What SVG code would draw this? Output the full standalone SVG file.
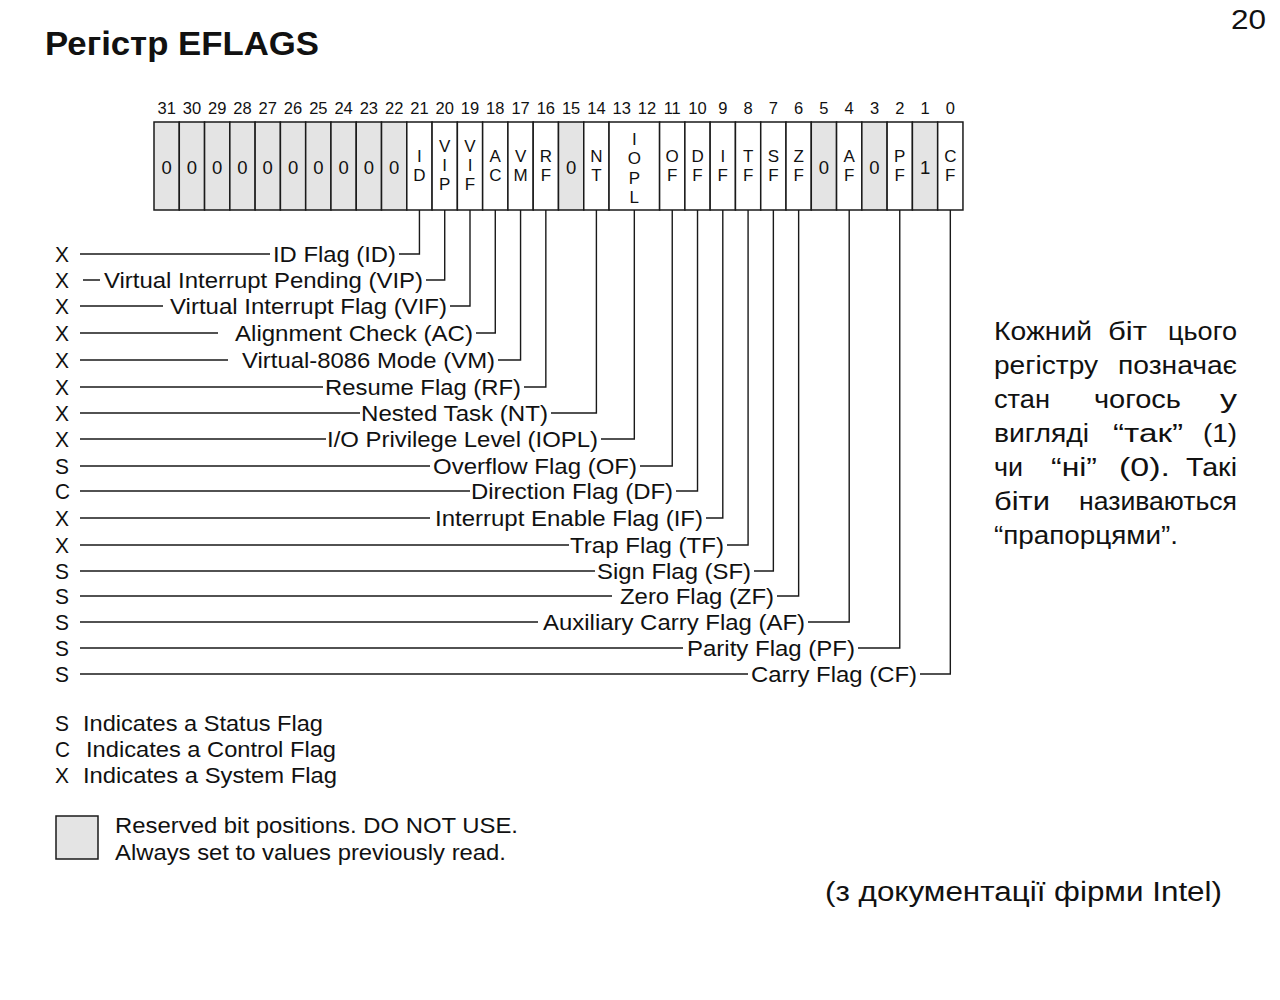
<svg xmlns="http://www.w3.org/2000/svg" width="1280" height="1000" viewBox="0 0 1280 1000">
<style>
  text{font-family:"Liberation Sans",Arial,Helvetica,sans-serif;fill:#111}
  .title{font-size:33px;font-weight:bold}
  .pg{font-size:28px}
  .bitno{font-size:16.5px;text-anchor:middle}
  .cell{fill:#fff;stroke:#1a1a1a;stroke-width:1.5}
  .rsv{fill:#e4e4e4}
  .cl{font-size:17px;text-anchor:middle}
  .zero{font-size:18.5px;text-anchor:middle}
  .lbl{font-size:22px}
  .wire{fill:none;stroke:#1a1a1a;stroke-width:1.4}
  .para{font-size:25px}
  .cite{font-size:27px}
</style>

<text class="title" x="45" y="55" textLength="274" lengthAdjust="spacingAndGlyphs">Регістр EFLAGS</text>
<text class="pg" x="1231" y="29" textLength="35" lengthAdjust="spacingAndGlyphs">20</text>

<!-- bit numbers above the register -->
<g id="bit-numbers">
  <text class="bitno" x="166.64" y="114">31</text>
  <text class="bitno" x="191.92" y="114">30</text>
  <text class="bitno" x="217.2" y="114">29</text>
  <text class="bitno" x="242.48" y="114">28</text>
  <text class="bitno" x="267.76" y="114">27</text>
  <text class="bitno" x="293.04" y="114">26</text>
  <text class="bitno" x="318.32" y="114">25</text>
  <text class="bitno" x="343.6" y="114">24</text>
  <text class="bitno" x="368.88" y="114">23</text>
  <text class="bitno" x="394.16" y="114">22</text>
  <text class="bitno" x="419.44" y="114">21</text>
  <text class="bitno" x="444.72" y="114">20</text>
  <text class="bitno" x="470" y="114">19</text>
  <text class="bitno" x="495.28" y="114">18</text>
  <text class="bitno" x="520.56" y="114">17</text>
  <text class="bitno" x="545.84" y="114">16</text>
  <text class="bitno" x="571.12" y="114">15</text>
  <text class="bitno" x="596.4" y="114">14</text>
  <text class="bitno" x="621.68" y="114">13</text>
  <text class="bitno" x="646.96" y="114">12</text>
  <text class="bitno" x="672.24" y="114">11</text>
  <text class="bitno" x="697.52" y="114">10</text>
  <text class="bitno" x="722.8" y="114">9</text>
  <text class="bitno" x="748.08" y="114">8</text>
  <text class="bitno" x="773.36" y="114">7</text>
  <text class="bitno" x="798.64" y="114">6</text>
  <text class="bitno" x="823.92" y="114">5</text>
  <text class="bitno" x="849.2" y="114">4</text>
  <text class="bitno" x="874.48" y="114">3</text>
  <text class="bitno" x="899.76" y="114">2</text>
  <text class="bitno" x="925.04" y="114">1</text>
  <text class="bitno" x="950.32" y="114">0</text>
</g>

<!-- register cells, bit 31 on the left -->
<g id="register">
  <g id="reserved-high">
    <rect class="cell rsv" x="154" y="122" width="25.28" height="88"/>
    <rect class="cell rsv" x="179.28" y="122" width="25.28" height="88"/>
    <rect class="cell rsv" x="204.56" y="122" width="25.28" height="88"/>
    <rect class="cell rsv" x="229.84" y="122" width="25.28" height="88"/>
    <rect class="cell rsv" x="255.12" y="122" width="25.28" height="88"/>
    <rect class="cell rsv" x="280.4" y="122" width="25.28" height="88"/>
    <rect class="cell rsv" x="305.68" y="122" width="25.28" height="88"/>
    <rect class="cell rsv" x="330.96" y="122" width="25.28" height="88"/>
    <rect class="cell rsv" x="356.24" y="122" width="25.28" height="88"/>
    <rect class="cell rsv" x="381.52" y="122" width="25.28" height="88"/>
    <text class="zero" x="166.64" y="174">0</text>
    <text class="zero" x="191.92" y="174">0</text>
    <text class="zero" x="217.2" y="174">0</text>
    <text class="zero" x="242.48" y="174">0</text>
    <text class="zero" x="267.76" y="174">0</text>
    <text class="zero" x="293.04" y="174">0</text>
    <text class="zero" x="318.32" y="174">0</text>
    <text class="zero" x="343.6" y="174">0</text>
    <text class="zero" x="368.88" y="174">0</text>
    <text class="zero" x="394.16" y="174">0</text>
  </g>
  <g id="bit-ID"><rect class="cell" x="406.8" y="122" width="25.28" height="88"/>
    <text class="cl"><tspan x="419.44" y="162">I</tspan><tspan x="419.44" y="181">D</tspan></text></g>
  <g id="bit-VIP"><rect class="cell" x="432.08" y="122" width="25.28" height="88"/>
    <text class="cl"><tspan x="444.72" y="152">V</tspan><tspan x="444.72" y="171">I</tspan><tspan x="444.72" y="190">P</tspan></text></g>
  <g id="bit-VIF"><rect class="cell" x="457.36" y="122" width="25.28" height="88"/>
    <text class="cl"><tspan x="470" y="152">V</tspan><tspan x="470" y="171">I</tspan><tspan x="470" y="190">F</tspan></text></g>
  <g id="bit-AC"><rect class="cell" x="482.64" y="122" width="25.28" height="88"/>
    <text class="cl"><tspan x="495.28" y="162">A</tspan><tspan x="495.28" y="181">C</tspan></text></g>
  <g id="bit-VM"><rect class="cell" x="507.92" y="122" width="25.28" height="88"/>
    <text class="cl"><tspan x="520.56" y="162">V</tspan><tspan x="520.56" y="181">M</tspan></text></g>
  <g id="bit-RF"><rect class="cell" x="533.2" y="122" width="25.28" height="88"/>
    <text class="cl"><tspan x="545.84" y="162">R</tspan><tspan x="545.84" y="181">F</tspan></text></g>
  <g id="bit-15"><rect class="cell rsv" x="558.48" y="122" width="25.28" height="88"/>
    <text class="zero" x="571.12" y="174">0</text></g>
  <g id="bit-NT"><rect class="cell" x="583.76" y="122" width="25.28" height="88"/>
    <text class="cl"><tspan x="596.4" y="162">N</tspan><tspan x="596.4" y="181">T</tspan></text></g>
  <g id="bit-IOPL"><rect class="cell" x="609.04" y="122" width="50.56" height="88"/>
    <text class="cl"><tspan x="634.32" y="145">I</tspan><tspan x="634.32" y="164">O</tspan><tspan x="634.32" y="183.5">P</tspan><tspan x="634.32" y="202.5">L</tspan></text></g>
  <g id="bit-OF"><rect class="cell" x="659.6" y="122" width="25.28" height="88"/>
    <text class="cl"><tspan x="672.24" y="162">O</tspan><tspan x="672.24" y="181">F</tspan></text></g>
  <g id="bit-DF"><rect class="cell" x="684.88" y="122" width="25.28" height="88"/>
    <text class="cl"><tspan x="697.52" y="162">D</tspan><tspan x="697.52" y="181">F</tspan></text></g>
  <g id="bit-IF"><rect class="cell" x="710.16" y="122" width="25.28" height="88"/>
    <text class="cl"><tspan x="722.8" y="162">I</tspan><tspan x="722.8" y="181">F</tspan></text></g>
  <g id="bit-TF"><rect class="cell" x="735.44" y="122" width="25.28" height="88"/>
    <text class="cl"><tspan x="748.08" y="162">T</tspan><tspan x="748.08" y="181">F</tspan></text></g>
  <g id="bit-SF"><rect class="cell" x="760.72" y="122" width="25.28" height="88"/>
    <text class="cl"><tspan x="773.36" y="162">S</tspan><tspan x="773.36" y="181">F</tspan></text></g>
  <g id="bit-ZF"><rect class="cell" x="786" y="122" width="25.28" height="88"/>
    <text class="cl"><tspan x="798.64" y="162">Z</tspan><tspan x="798.64" y="181">F</tspan></text></g>
  <g id="bit-5"><rect class="cell rsv" x="811.28" y="122" width="25.28" height="88"/>
    <text class="zero" x="823.92" y="174">0</text></g>
  <g id="bit-AF"><rect class="cell" x="836.56" y="122" width="25.28" height="88"/>
    <text class="cl"><tspan x="849.2" y="162">A</tspan><tspan x="849.2" y="181">F</tspan></text></g>
  <g id="bit-3"><rect class="cell rsv" x="861.84" y="122" width="25.28" height="88"/>
    <text class="zero" x="874.48" y="174">0</text></g>
  <g id="bit-PF"><rect class="cell" x="887.12" y="122" width="25.28" height="88"/>
    <text class="cl"><tspan x="899.76" y="162">P</tspan><tspan x="899.76" y="181">F</tspan></text></g>
  <g id="bit-1"><rect class="cell rsv" x="912.4" y="122" width="25.28" height="88"/>
    <text class="zero" x="925.04" y="174">1</text></g>
  <g id="bit-CF"><rect class="cell" x="937.68" y="122" width="25.28" height="88"/>
    <text class="cl"><tspan x="950.32" y="162">C</tspan><tspan x="950.32" y="181">F</tspan></text></g>
</g>

<!-- leader lines: left rule, then label, then elbow up to the bit -->
<g id="connectors" class="wire">
  <path d="M80 254H270 M399 254H419.44V210"/>
  <path d="M83 280H100 M426 280H444.72V210"/>
  <path d="M80 306H163 M450 306H470V210"/>
  <path d="M80 333H218 M476 333H495.28V210"/>
  <path d="M80 360H228 M498 360H520.56V210"/>
  <path d="M80 387H323 M524 387H545.84V210"/>
  <path d="M80 413H360 M551 413H596.4V210"/>
  <path d="M80 439H326 M601 439H634.32V210"/>
  <path d="M80 466H430 M640 466H672.24V210"/>
  <path d="M80 491H470 M676 491H697.52V210"/>
  <path d="M80 518H430 M706 518H722.8V210"/>
  <path d="M80 545H569 M727 545H748.08V210"/>
  <path d="M80 571H595 M754 571H773.36V210"/>
  <path d="M80 596H612 M777 596H798.64V210"/>
  <path d="M80 622H538 M808 622H849.2V210"/>
  <path d="M80 648H683 M858 648H899.76V210"/>
  <path d="M80 674H748 M920 674H950.32V210"/>
</g>

<!-- flag class letters -->
<g id="flag-kinds" class="lbl">
  <text x="55" y="262" textLength="14" lengthAdjust="spacingAndGlyphs">X</text>
  <text x="55" y="288" textLength="14" lengthAdjust="spacingAndGlyphs">X</text>
  <text x="55" y="314" textLength="14" lengthAdjust="spacingAndGlyphs">X</text>
  <text x="55" y="341" textLength="14" lengthAdjust="spacingAndGlyphs">X</text>
  <text x="55" y="368" textLength="14" lengthAdjust="spacingAndGlyphs">X</text>
  <text x="55" y="395" textLength="14" lengthAdjust="spacingAndGlyphs">X</text>
  <text x="55" y="421" textLength="14" lengthAdjust="spacingAndGlyphs">X</text>
  <text x="55" y="447" textLength="14" lengthAdjust="spacingAndGlyphs">X</text>
  <text x="55" y="474" textLength="14" lengthAdjust="spacingAndGlyphs">S</text>
  <text x="55" y="499" textLength="15" lengthAdjust="spacingAndGlyphs">C</text>
  <text x="55" y="526" textLength="14" lengthAdjust="spacingAndGlyphs">X</text>
  <text x="55" y="553" textLength="14" lengthAdjust="spacingAndGlyphs">X</text>
  <text x="55" y="579" textLength="14" lengthAdjust="spacingAndGlyphs">S</text>
  <text x="55" y="604" textLength="14" lengthAdjust="spacingAndGlyphs">S</text>
  <text x="55" y="630" textLength="14" lengthAdjust="spacingAndGlyphs">S</text>
  <text x="55" y="656" textLength="14" lengthAdjust="spacingAndGlyphs">S</text>
  <text x="55" y="682" textLength="14" lengthAdjust="spacingAndGlyphs">S</text>
</g>

<!-- flag names -->
<g id="flag-names" class="lbl">
  <text x="273" y="262" textLength="123" lengthAdjust="spacingAndGlyphs">ID Flag (ID)</text>
  <text x="104" y="288" textLength="319" lengthAdjust="spacingAndGlyphs">Virtual Interrupt Pending (VIP)</text>
  <text x="170" y="314" textLength="277" lengthAdjust="spacingAndGlyphs">Virtual Interrupt Flag (VIF)</text>
  <text x="235" y="341" textLength="238" lengthAdjust="spacingAndGlyphs">Alignment Check (AC)</text>
  <text x="242" y="368" textLength="253" lengthAdjust="spacingAndGlyphs">Virtual-8086 Mode (VM)</text>
  <text x="325" y="395" textLength="196" lengthAdjust="spacingAndGlyphs">Resume Flag (RF)</text>
  <text x="361" y="421" textLength="187" lengthAdjust="spacingAndGlyphs">Nested Task (NT)</text>
  <text x="327" y="447" textLength="271" lengthAdjust="spacingAndGlyphs">I/O Privilege Level (IOPL)</text>
  <text x="433" y="474" textLength="204" lengthAdjust="spacingAndGlyphs">Overflow Flag (OF)</text>
  <text x="471" y="499" textLength="202" lengthAdjust="spacingAndGlyphs">Direction Flag (DF)</text>
  <text x="435" y="526" textLength="268" lengthAdjust="spacingAndGlyphs">Interrupt Enable Flag (IF)</text>
  <text x="570" y="553" textLength="154" lengthAdjust="spacingAndGlyphs">Trap Flag (TF)</text>
  <text x="597" y="579" textLength="154" lengthAdjust="spacingAndGlyphs">Sign Flag (SF)</text>
  <text x="620" y="604" textLength="154" lengthAdjust="spacingAndGlyphs">Zero Flag (ZF)</text>
  <text x="543" y="630" textLength="262" lengthAdjust="spacingAndGlyphs">Auxiliary Carry Flag (AF)</text>
  <text x="687" y="656" textLength="168" lengthAdjust="spacingAndGlyphs">Parity Flag (PF)</text>
  <text x="751" y="682" textLength="166" lengthAdjust="spacingAndGlyphs">Carry Flag (CF)</text>
</g>

<!-- legend -->
<g id="legend" class="lbl">
  <text x="55" y="731" textLength="14" lengthAdjust="spacingAndGlyphs">S</text>
  <text x="83" y="731" textLength="240" lengthAdjust="spacingAndGlyphs">Indicates a Status Flag</text>
  <text x="55" y="757" textLength="15" lengthAdjust="spacingAndGlyphs">C</text>
  <text x="86" y="757" textLength="250" lengthAdjust="spacingAndGlyphs">Indicates a Control Flag</text>
  <text x="55" y="783" textLength="14" lengthAdjust="spacingAndGlyphs">X</text>
  <text x="83" y="783" textLength="254" lengthAdjust="spacingAndGlyphs">Indicates a System Flag</text>
  <rect class="cell rsv" x="56" y="816" width="42" height="43"/>
  <text x="115" y="833" textLength="403" lengthAdjust="spacingAndGlyphs">Reserved bit positions. DO NOT USE.</text>
  <text x="115" y="860" textLength="391" lengthAdjust="spacingAndGlyphs">Always set to values previously read.</text>
</g>

<!-- justified note on the right -->
<g id="note" class="para">
  <text x="994" y="340" textLength="98" lengthAdjust="spacingAndGlyphs">Кожний</text>
  <text x="1108" y="340" textLength="39" lengthAdjust="spacingAndGlyphs">біт</text>
  <text x="1168" y="340" textLength="69" lengthAdjust="spacingAndGlyphs">цього</text>
  <text x="994" y="374" textLength="104" lengthAdjust="spacingAndGlyphs">регістру</text>
  <text x="1118" y="374" textLength="119" lengthAdjust="spacingAndGlyphs">позначає</text>
  <text x="994" y="408" textLength="56" lengthAdjust="spacingAndGlyphs">стан</text>
  <text x="1094" y="408" textLength="87" lengthAdjust="spacingAndGlyphs">чогось</text>
  <text x="1220" y="408" textLength="17" lengthAdjust="spacingAndGlyphs">у</text>
  <text x="994" y="442" textLength="95" lengthAdjust="spacingAndGlyphs">вигляді</text>
  <text x="1113" y="442" textLength="70" lengthAdjust="spacingAndGlyphs">“так”</text>
  <text x="1203" y="442" textLength="34" lengthAdjust="spacingAndGlyphs">(1)</text>
  <text x="994" y="476" textLength="29" lengthAdjust="spacingAndGlyphs">чи</text>
  <text x="1051" y="476" textLength="46" lengthAdjust="spacingAndGlyphs">“ні”</text>
  <text x="1119" y="476" textLength="51" lengthAdjust="spacingAndGlyphs">(0).</text>
  <text x="1186" y="476" textLength="51" lengthAdjust="spacingAndGlyphs">Такі</text>
  <text x="994" y="510" textLength="56" lengthAdjust="spacingAndGlyphs">біти</text>
  <text x="1079" y="510" textLength="158" lengthAdjust="spacingAndGlyphs">називаються</text>
  <text x="994" y="544" textLength="184" lengthAdjust="spacingAndGlyphs">“прапорцями”.</text>
</g>

<text class="cite" x="825" y="901" textLength="397" lengthAdjust="spacingAndGlyphs">(з документації фірми Intel)</text>
</svg>
